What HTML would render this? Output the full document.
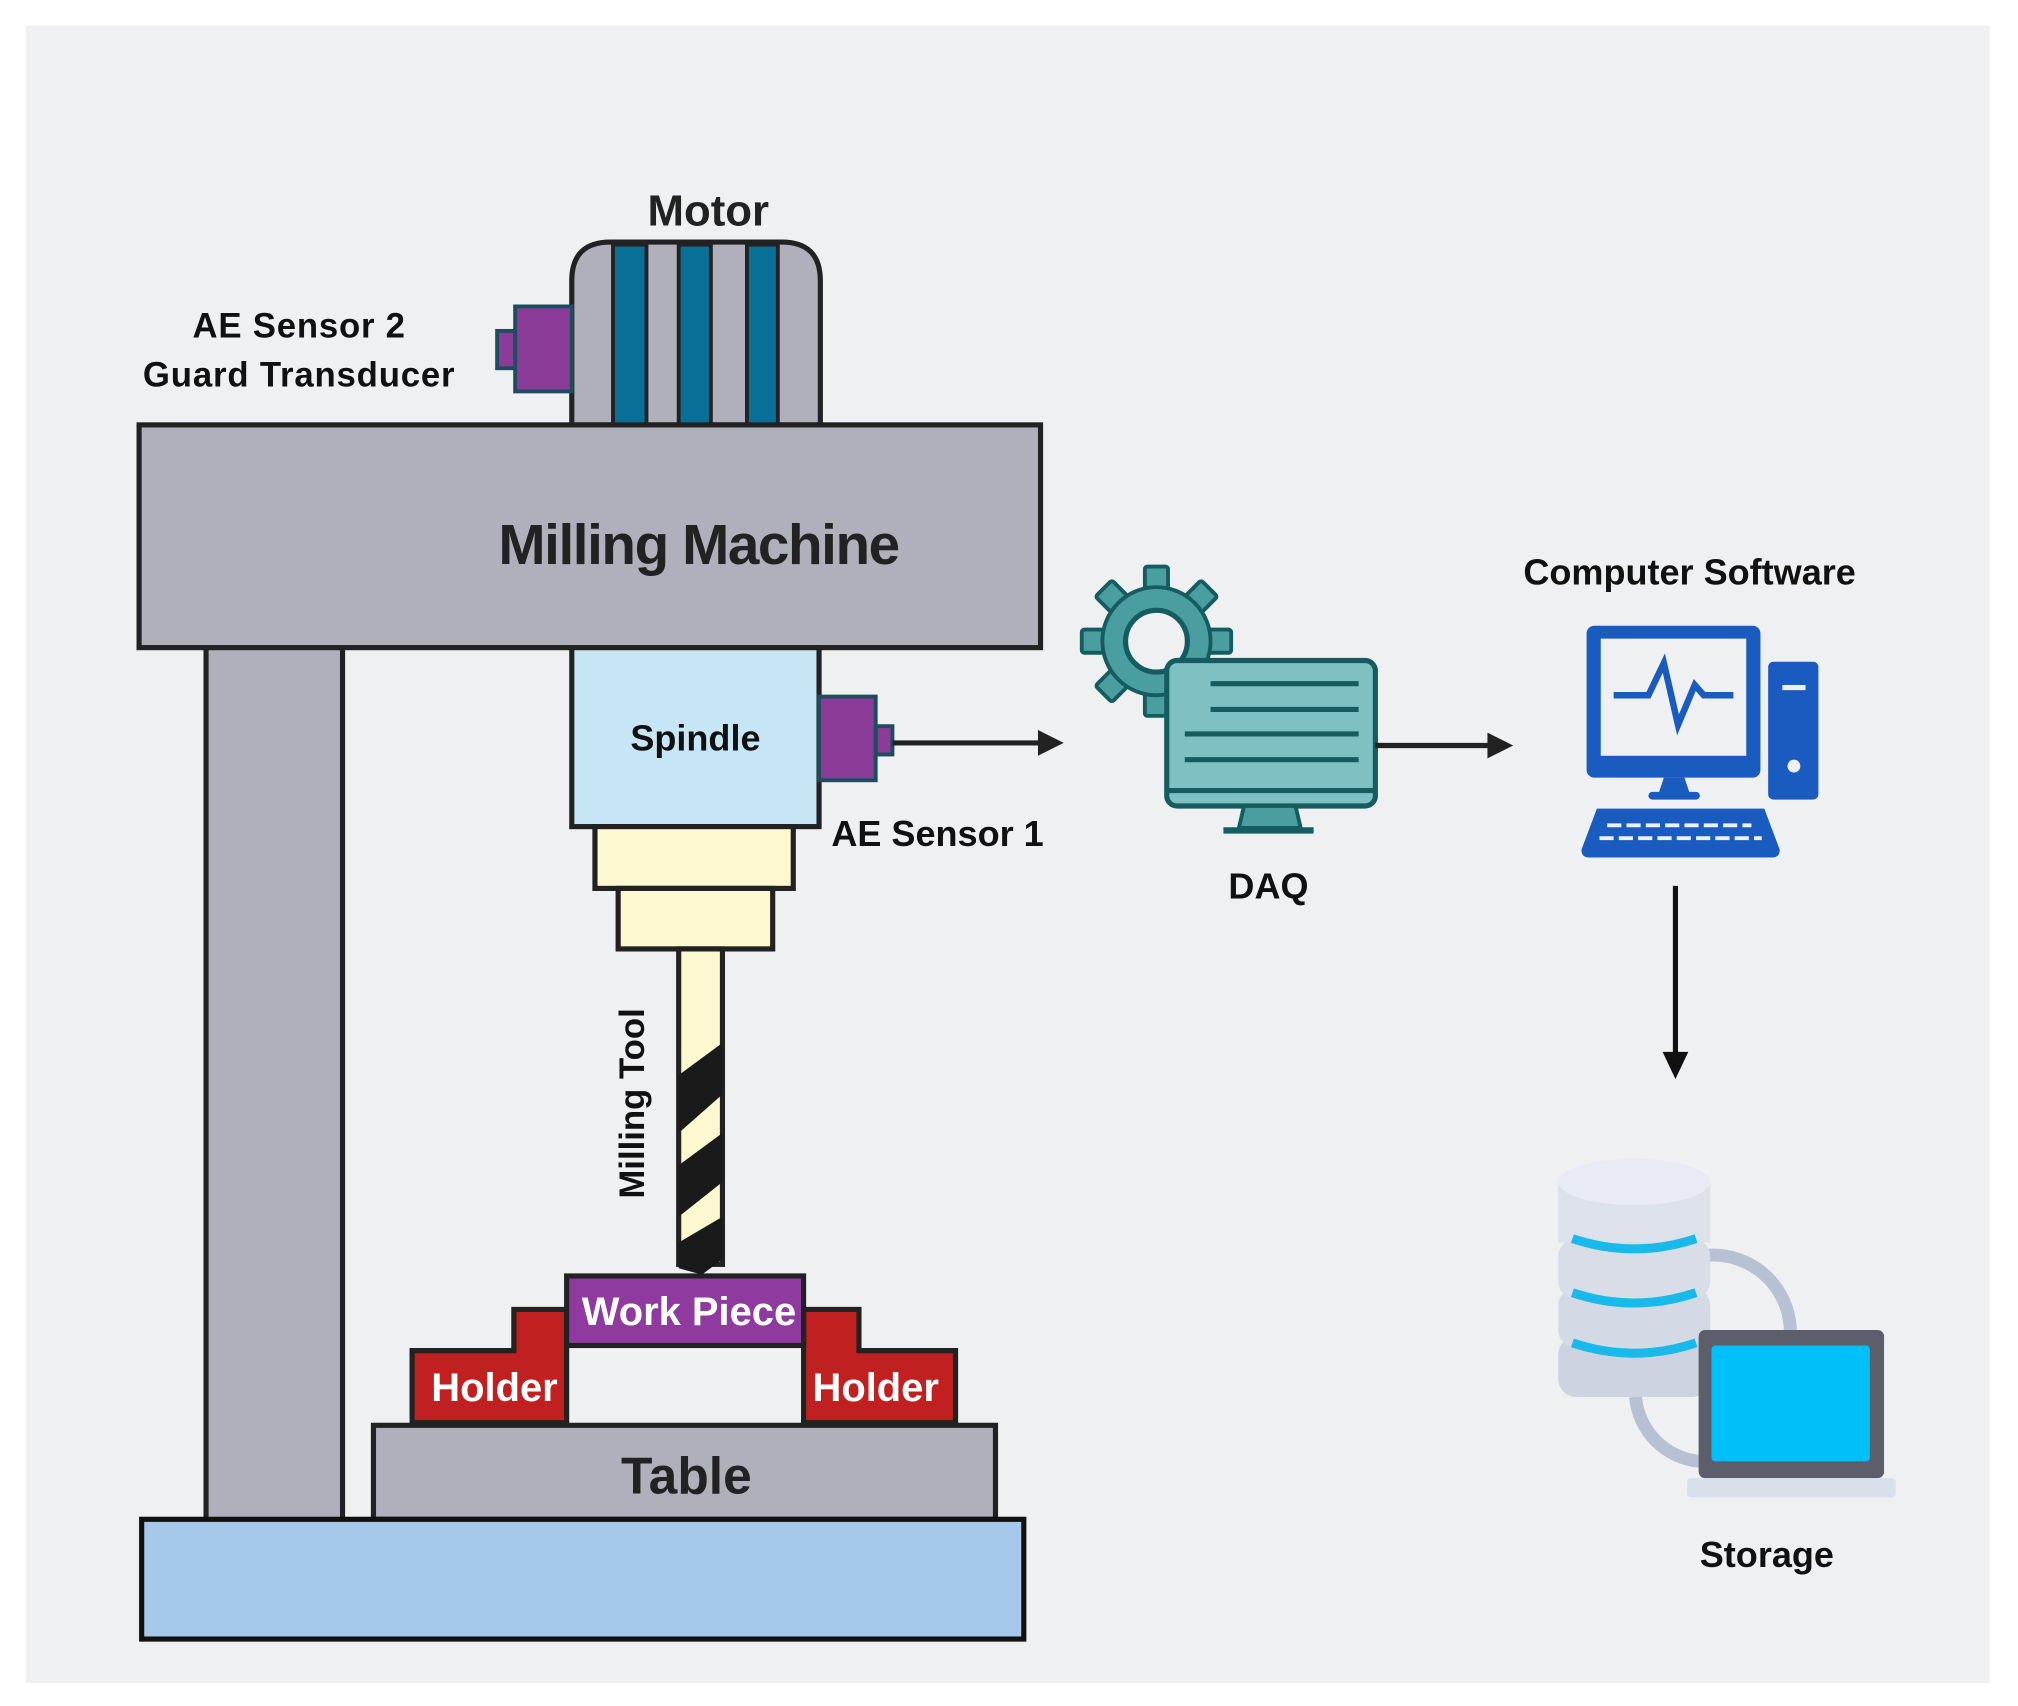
<!DOCTYPE html>
<html><head><meta charset="utf-8"><style>html,body{margin:0;padding:0;background:#fff}svg{display:block}</style></head>
<body>
<svg width="2018" height="1706" viewBox="0 0 1567 1325" preserveAspectRatio="none" xmlns="http://www.w3.org/2000/svg" font-family="Liberation Sans, sans-serif" font-weight="bold">
<rect x="0" y="0" width="1567" height="1325" fill="#fff"/>
<rect x="20" y="20" width="1525" height="1287" fill="#eef0f2"/>
<!-- Motor -->
<text x="550" y="175" font-size="34" text-anchor="middle" fill="#222">Motor</text>
<path d="M444,330 V218 Q444,188 474,188 H607 Q637,188 637,218 V330 Z" fill="#b0b0bc" stroke="#222" stroke-width="4"/>
<g fill="#0a6f96" stroke="#222" stroke-width="3">
<rect x="476" y="190" width="26" height="140"/><rect x="527" y="190" width="25" height="140"/><rect x="580" y="190" width="24" height="140"/></g>
<rect x="400" y="238" width="44" height="66" fill="#8a3c98" stroke="#1d4d5e" stroke-width="3"/>
<rect x="386" y="257" width="14" height="29" fill="#8a3c98" stroke="#1d4d5e" stroke-width="3"/>
<text x="232" y="262" font-size="27" text-anchor="middle" fill="#111" textLength="165">AE Sensor 2</text>
<text x="232" y="300" font-size="27" text-anchor="middle" fill="#111" textLength="242">Guard Transducer</text>
<!-- frame -->
<rect x="160" y="500" width="106" height="682" fill="#b0b0bc" stroke="#222" stroke-width="4"/>
<rect x="108" y="330" width="700" height="173" fill="#b0b0bc" stroke="#222" stroke-width="4"/>
<text x="543" y="438" font-size="44" text-anchor="middle" fill="#222" textLength="312">Milling Machine</text>
<!-- spindle -->
<rect x="444" y="503" width="192" height="139" fill="#c6e6f5" stroke="#222" stroke-width="4"/>
<text x="540" y="583" font-size="28" text-anchor="middle" fill="#111">Spindle</text>
<rect x="636" y="541" width="44" height="65" fill="#8a3c98" stroke="#1d4d5e" stroke-width="3"/>
<rect x="680" y="564" width="13" height="22" fill="#8a3c98" stroke="#1d4d5e" stroke-width="3"/>
<line x1="693" y1="577" x2="808" y2="577" stroke="#222" stroke-width="4"/>
<path d="M806,567 L826,577 L806,587z" fill="#222"/>
<text x="728" y="657" font-size="28" text-anchor="middle" fill="#111">AE Sensor 1</text>
<rect x="462" y="642" width="154" height="48" fill="#fdf8d0" stroke="#222" stroke-width="4"/>
<rect x="480" y="690" width="120" height="47" fill="#fdf8d0" stroke="#222" stroke-width="4"/>
<!-- tool -->
<rect x="527" y="737" width="34" height="245" fill="#fdf8d0" stroke="#222" stroke-width="4"/>
<g fill="#1a1a1a">
<path d="M527,835 L561,810 L561,850 L527,880z"/>
<path d="M527,905 L561,880 L561,918 L527,945z"/>
<path d="M527,965 L561,945 L561,978 L545,990 L527,985z"/>
</g>
<text transform="translate(500,857) rotate(-90)" font-size="27" text-anchor="middle" fill="#111">Milling Tool</text>
<!-- holders -->
<path d="M320,1105 V1049 H399 V1017 H440 V1105 Z" fill="#c0201f" stroke="#222" stroke-width="4"/>
<path d="M742,1105 V1049 H667 V1017 H624 V1105 Z" fill="#c0201f" stroke="#222" stroke-width="4"/>
<rect x="440" y="991" width="184" height="54" fill="#8e3a9e" stroke="#222" stroke-width="4"/>
<text x="535" y="1029" font-size="31" text-anchor="middle" fill="#fff">Work Piece</text>
<text x="384" y="1088" font-size="31" text-anchor="middle" fill="#fff">Holder</text>
<text x="680" y="1088" font-size="31" text-anchor="middle" fill="#fff">Holder</text>
<rect x="290" y="1107" width="483" height="73" fill="#b0b0bc" stroke="#222" stroke-width="4"/>
<text x="533" y="1160" font-size="40" text-anchor="middle" fill="#222">Table</text>
<rect x="110" y="1180" width="685" height="93" fill="#a6c8ea" stroke="#111" stroke-width="4"/>
<!-- DAQ gear -->
<g fill="#4a9ea0" stroke="#145c60" stroke-width="3">
<g id="t"><rect x="889" y="440" width="18" height="20" rx="2"/><rect x="889" y="536" width="18" height="20" rx="2"/></g>
<use href="#t" transform="rotate(45 898 498)"/><use href="#t" transform="rotate(90 898 498)"/><use href="#t" transform="rotate(135 898 498)"/>
<circle cx="898" cy="498" r="42"/>
</g>
<circle cx="898" cy="498" r="24" fill="#eef0f2" stroke="#145c60" stroke-width="4"/>
<rect x="906" y="513" width="162" height="113" rx="8" fill="#7fc1c3" stroke="#145c60" stroke-width="4"/>
<line x1="906" y1="614" x2="1068" y2="614" stroke="#145c60" stroke-width="4"/>
<g stroke="#145c60" stroke-width="4"><line x1="940" y1="531" x2="1055" y2="531"/><line x1="940" y1="551" x2="1055" y2="551"/><line x1="920" y1="570" x2="1055" y2="570"/><line x1="920" y1="590" x2="1055" y2="590"/></g>
<path d="M966,626 L1006,626 L1010,643 L962,643z" fill="#4a9ea0" stroke="#145c60" stroke-width="3"/>
<line x1="950" y1="645" x2="1020" y2="645" stroke="#145c60" stroke-width="5"/>
<line x1="1068" y1="579" x2="1158" y2="579" stroke="#222" stroke-width="4"/>
<path d="M1155,569 L1175,579 L1155,589z" fill="#222"/>
<text x="985" y="698" font-size="28" text-anchor="middle" fill="#111">DAQ</text>
<!-- computer -->
<text x="1312" y="454" font-size="28" text-anchor="middle" fill="#111">Computer Software</text>
<rect x="1232" y="486" width="135" height="118" rx="6" fill="#1a5bbf"/>
<rect x="1243" y="496" width="113" height="91" fill="#eef0f2"/>
<polyline points="1253,540 1280,540 1292,515 1303,563 1316,532 1323,540 1346,540" fill="none" stroke="#1a5bbf" stroke-width="5"/>
<path d="M1292,604 H1308 L1312,616 H1288z" fill="#1a5bbf"/>
<rect x="1280" y="615" width="40" height="6" rx="3" fill="#1a5bbf"/>
<rect x="1373" y="514" width="39" height="107" rx="4" fill="#1a5bbf"/>
<rect x="1384" y="532" width="18" height="4" fill="#eef0f2"/><circle cx="1393" cy="595" r="5" fill="#eef0f2"/>
<path d="M1240,628 H1370 L1382,660 Q1382,666 1376,666 H1234 Q1228,666 1228,660z" fill="#1a5bbf"/>
<g stroke="#eef0f2" stroke-width="3" stroke-dasharray="11,4"><line x1="1248" y1="641" x2="1360" y2="641"/><line x1="1242" y1="651" x2="1368" y2="651"/></g>
<line x1="1301" y1="688" x2="1301" y2="820" stroke="#111" stroke-width="4"/>
<path d="M1291,817 L1301,838 L1311,817z" fill="#111"/>
<!-- storage -->
<path d="M1325,975 A60,60 0 0 1 1390,1040" fill="none" stroke="#b7c1d3" stroke-width="10"/>
<path d="M1270,1085 A55,55 0 0 0 1320,1135" fill="none" stroke="#b7c1d3" stroke-width="10"/>
<g>
<rect x="1210" y="1038" width="118" height="47" rx="14" fill="#cdd3e0"/>
<rect x="1210" y="1000" width="118" height="47" rx="14" fill="#d3d9e5"/>
<rect x="1210" y="962" width="118" height="47" rx="14" fill="#d8dde8"/>
<ellipse cx="1269" cy="920" rx="59" ry="20" fill="#e6e9f2"/>
<rect x="1210" y="920" width="118" height="45" fill="#dde1ea"/>
<ellipse cx="1269" cy="918" rx="59" ry="18" fill="#e8ebf3"/>
<path d="M1221,962 Q1269,978 1317,962" fill="none" stroke="#19b9ea" stroke-width="7"/>
<path d="M1221,1004 Q1269,1020 1317,1004" fill="none" stroke="#19b9ea" stroke-width="7"/>
<path d="M1221,1043 Q1269,1059 1317,1043" fill="none" stroke="#19b9ea" stroke-width="7"/>
</g>
<rect x="1319" y="1033" width="144" height="115" rx="5" fill="#5d5e6c"/>
<rect x="1329" y="1045" width="123" height="90" rx="3" fill="#00c0fa"/>
<rect x="1310" y="1148" width="162" height="15" rx="3" fill="#d9dfeb"/>
<text x="1372" y="1217" font-size="28" text-anchor="middle" fill="#111">Storage</text>
</svg>
</body></html>
